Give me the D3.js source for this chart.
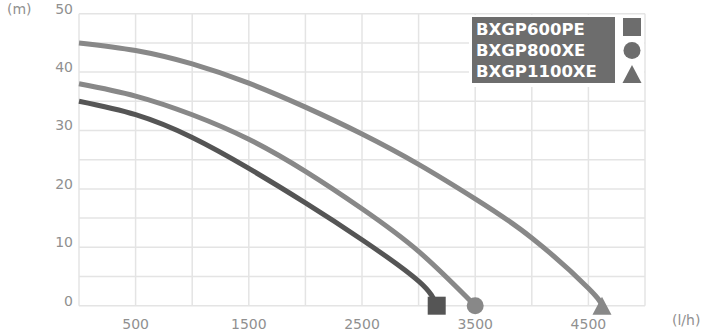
<!DOCTYPE html>
<html lang="en">
<head>
<meta charset="UTF-8">
<title>Pump curves</title>
<script src="https://d3js.org/d3.v7.min.js"></script>
<style>
  body { margin: 0; background: #fff; }
  svg { display: block; font-family: "DejaVu Sans", sans-serif; }
</style>
</head>
<body>
<svg></svg>
<script>
// chart data: flow (l/h) vs head (m)
const models = ["BXGP600PE", "BXGP800XE", "BXGP1100XE"];
const flow600 = [0, 500, 1000, 1500, 2000, 2500, 3000, 3160];
const head600 = [35, 32.7, 28.8, 23.5, 17.6, 11.3, 4.2, 0];
const flow800 = [0, 500, 1000, 1500, 2000, 2500, 3000, 3500];
const head800 = [38, 35.9, 32.7, 28.5, 23.0, 16.6, 9.3, 0];
const flow1100 = [0, 500, 1000, 1500, 2000, 2500, 3000, 3500, 4000, 4500, 4620];
const head1100 = [45, 43.7, 41.4, 38.1, 34.0, 29.4, 24.2, 18.3, 11.6, 3.0, 0];
const xTicks = [500, 1500, 2500, 3500, 4500];
const yTicks = [0, 10, 20, 30, 40, 50];

const W = 707, H = 334;
const margin = { top: 13.7, right: 62, bottom: 28.3, left: 79 };
const width = W - margin.left - margin.right;
const height = H - margin.top - margin.bottom;

const svg = d3.select("svg").attr("width", W).attr("height", H);
const g = svg.append("g").attr("transform", `translate(${margin.left},${margin.top})`);

const x = d3.scaleLinear().domain([0, 5000]).range([0, width]);
const y = d3.scaleLinear().domain([0, 50]).range([height, 0]);

const gridColor = "#e4e4e4";

// grid every 500 l/h and 5 m
g.selectAll(".vgrid").data(d3.range(0, 5001, 500)).enter().append("line")
  .attr("x1", d => x(d)).attr("x2", d => x(d))
  .attr("y1", 0).attr("y2", height)
  .attr("stroke", gridColor).attr("stroke-width", 1.5);
g.selectAll(".hgrid").data(d3.range(0, 51, 5)).enter().append("line")
  .attr("x1", 0).attr("x2", width)
  .attr("y1", d => y(d)).attr("y2", d => y(d))
  .attr("stroke", gridColor).attr("stroke-width", 1.5);

// axis labels
const labelColor = "#909090";
g.selectAll(".ylab").data(yTicks).enter().append("text")
  .attr("x", -6).attr("y", d => y(d))
  .attr("text-anchor", "end")
  .attr("fill", labelColor).style("font-size", "14px")
  .text(d => d);
g.selectAll(".xlab").data(xTicks).enter().append("text")
  .attr("x", d => x(d)).attr("y", height + 23)
  .attr("text-anchor", "middle")
  .attr("fill", labelColor).style("font-size", "14px")
  .text(d => d);
svg.append("text").attr("x", 7).attr("y", 14)
  .attr("fill", labelColor).style("font-size", "14px").text("(m)");
svg.append("text").attr("x", 672).attr("y", 325)
  .attr("fill", labelColor).style("font-size", "14px").text("(l/h)");

// curves
const series = [
  { name: models[0], flow: flow600, head: head600, color: "#555555", marker: "square" },
  { name: models[1], flow: flow800, head: head800, color: "#888888", marker: "circle" },
  { name: models[2], flow: flow1100, head: head1100, color: "#888888", marker: "triangle" }
];

const line = d3.line()
  .x(d => x(d[0]))
  .y(d => y(d[1]))
  .curve(d3.curveNatural);

series.forEach(s => {
  const pts = s.flow.map((f, i) => [f, s.head[i]]);
  g.append("path")
    .datum(pts)
    .attr("fill", "none")
    .attr("stroke", s.color)
    .attr("stroke-width", 5)
    .attr("d", line);
});

// end markers
function drawMarker(sel, type, cx, cy, color) {
  if (type === "square") {
    sel.append("rect").attr("x", cx - 9).attr("y", cy - 9)
      .attr("width", 18).attr("height", 18).attr("fill", color);
  } else if (type === "circle") {
    sel.append("circle").attr("cx", cx).attr("cy", cy).attr("r", 8.5).attr("fill", color);
  } else {
    sel.append("path")
      .attr("d", `M${cx},${cy - 9}L${cx + 9.5},${cy + 9}L${cx - 9.5},${cy + 9}Z`)
      .attr("fill", color);
  }
}
series.forEach(s => {
  const n = s.flow.length - 1;
  drawMarker(g, s.marker, x(s.flow[n]), y(s.head[n]), s.color);
});

// legend
const legend = svg.append("g");
legend.append("rect").attr("x", 469).attr("y", 15).attr("width", 175).attr("height", 72)
  .attr("fill", "#fff");
legend.append("rect").attr("x", 472).attr("y", 17).attr("width", 143).attr("height", 66)
  .attr("fill", "#6d6d6d");
series.forEach((s, i) => {
  legend.append("text")
    .attr("x", 476).attr("y", 35 + i * 21)
    .attr("fill", "#fff")
    .style("font-size", "16.5px").style("font-weight", "bold")
    .text(s.name);
  drawMarker(legend, s.marker, 632, 27 + i * 23.5, "#6d6d6d");
});
</script>
</body>
</html>
